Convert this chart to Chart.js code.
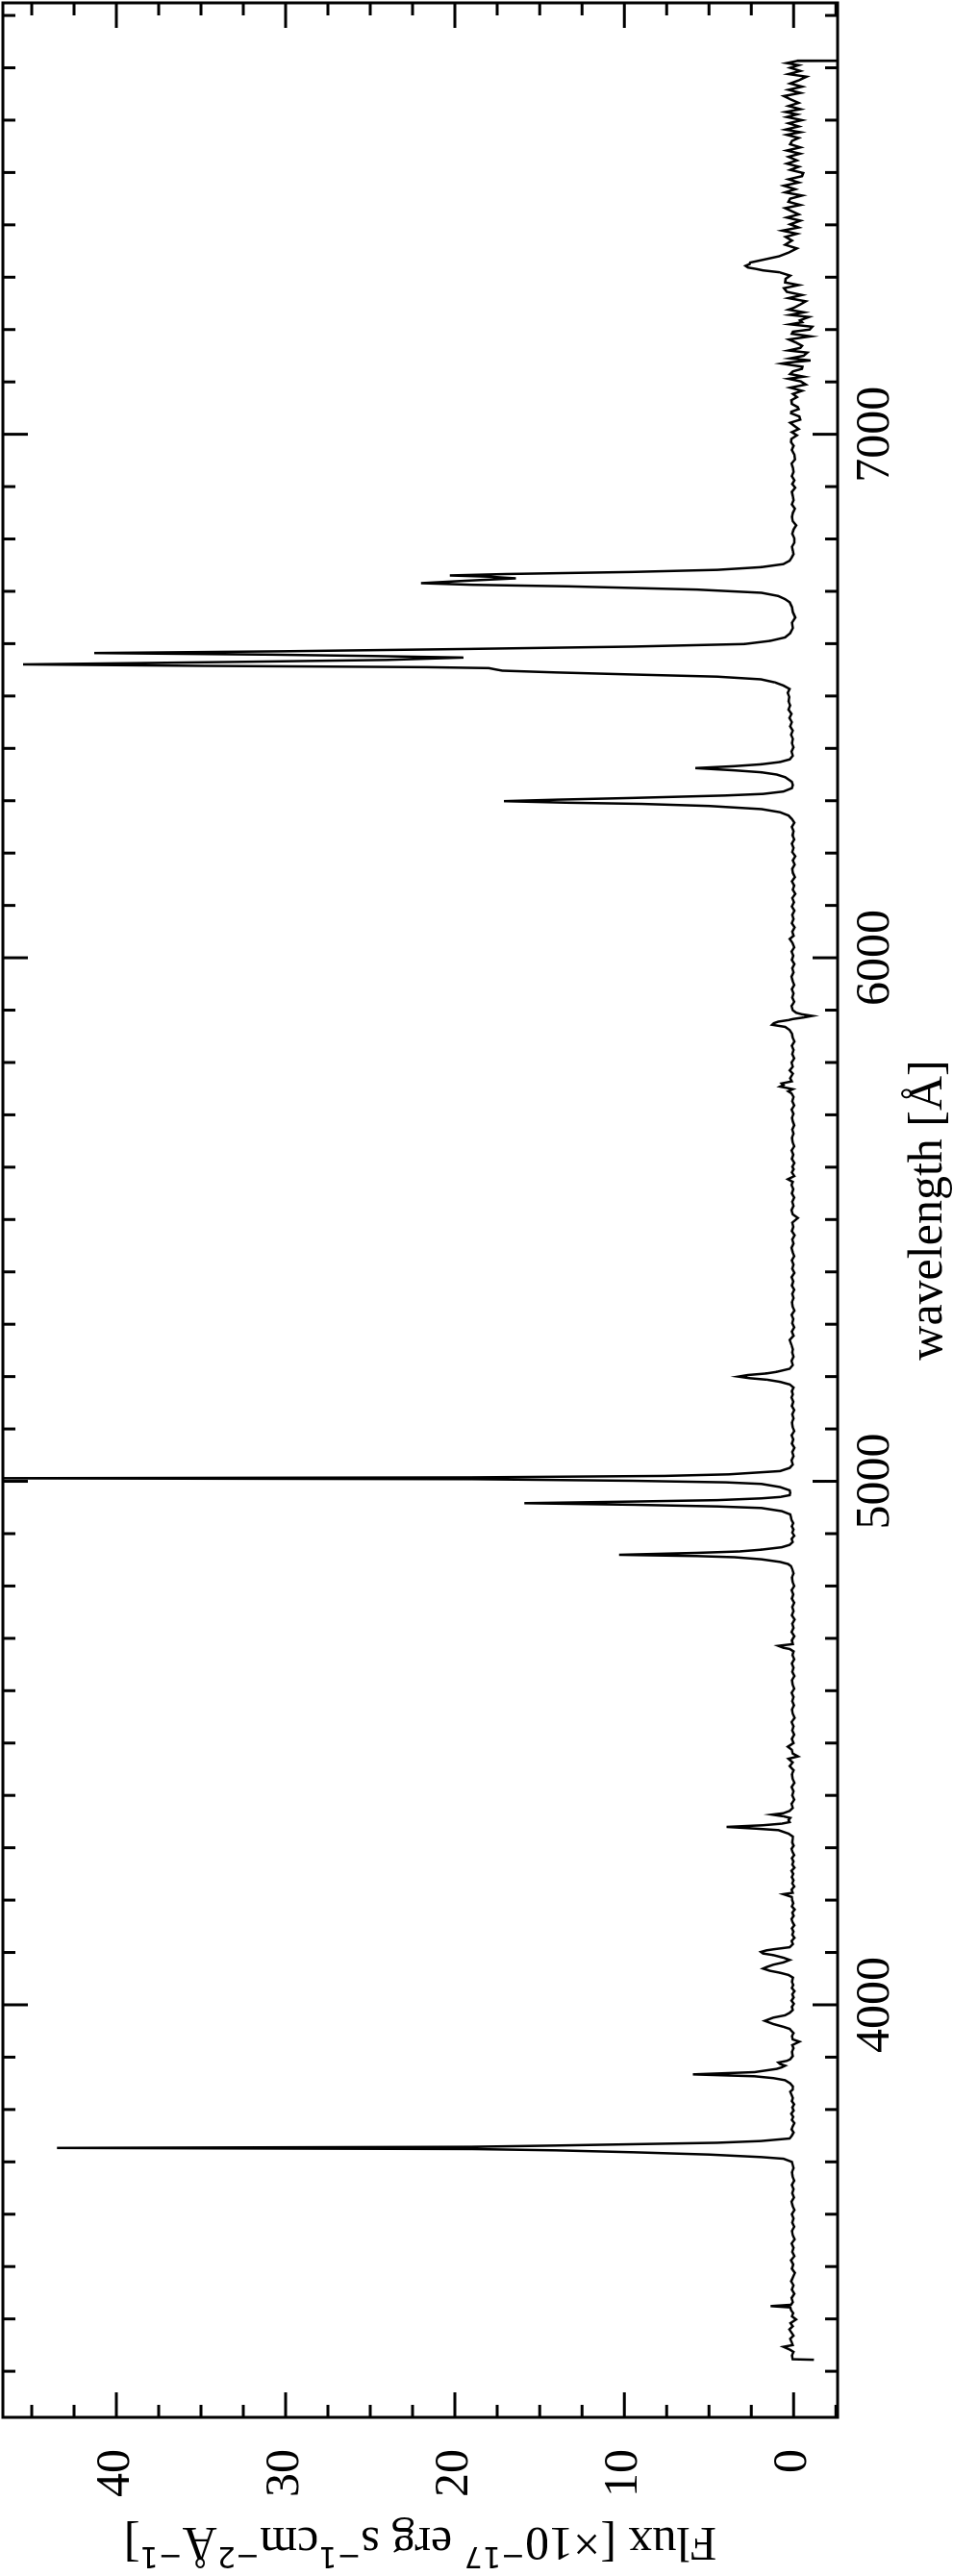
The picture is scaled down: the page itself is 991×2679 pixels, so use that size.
<!DOCTYPE html>
<html>
<head>
<meta charset="utf-8">
<script src="https://cdn.jsdelivr.net/npm/chart.js@4.4.1/dist/chart.umd.min.js"></script>
<style>
  html, body { margin: 0; padding: 0; background: #fff; overflow: hidden; }
  #wrap {
    position: absolute; left: 0; top: 0;
    width: 2679px; height: 991px;
    transform-origin: 0 0;
    transform: translateY(2679px) rotate(-90deg);
  }
</style>
</head>
<body>
<div id="wrap"><canvas id="chart" width="2679" height="991"></canvas></div>
<script>
// spectrum, split by region (wavelength in Å, flux in 1e-17 units)
const wlBlue = [
  3322, 3323, 3330, 3337, 3341, 3346.7, 3350, 3356, 3362, 3368,
  3374, 3380, 3386, 3392, 3399, 3405, 3411, 3417, 3422, 3424.5,
  3427, 3432, 3440, 3448, 3456, 3464, 3472, 3480, 3488, 3496,
  3504, 3512, 3520, 3528, 3536, 3544, 3552, 3560, 3568, 3576,
  3584, 3592, 3600, 3608, 3616, 3624, 3632, 3640, 3648, 3656,
  3664, 3672, 3680, 3688, 3694, 3700, 3706, 3709.2, 3714, 3718.4,
  3722, 3724.5, 3726.6, 3728.8, 3731.2, 3733.7, 3736.5, 3739.8, 3744.7, 3750
];
const fluxBlue = [
  -1.2, 0.05, 0.1, 0.0, 0.2, 0.6, 0.05, 0.12, 0.2, 0.0,
  0.13, 0.25, 0.05, 0.18, -0.15, 0.1, 0.02, 0.15, 0.2, 1.36,
  0.15, 0.05, 0.12, -0.05, 0.1, 0.0, 0.14, 0.03, -0.08, 0.1,
  0.02, 0.15, -0.05, 0.08, 0.0, 0.12, -0.06, 0.05, 0.1, -0.04,
  0.08, 0.0, 0.1, -0.05, 0.06, 0.12, -0.02, 0.08, 0.0, 0.1,
  -0.04, 0.06, 0.1, 0.0, 0.05, 0.1, 0.6, 1.93, 5.0, 9.5,
  14, 19, 43.5, 19, 14, 9.5, 4.5, 1.93, 0.23, 0.1
];

const wlNeon = [
  3756, 3762, 3768, 3774, 3780, 3786, 3792, 3798, 3804, 3810,
  3816, 3822, 3828, 3834, 3838, 3844, 3850, 3856, 3860, 3863.5,
  3867.1, 3871.4, 3877.6, 3880.5, 3883.7, 3887, 3889.8, 3893, 3896, 3902,
  3910, 3917, 3923, 3929.6, 3934, 3940, 3946, 3951, 3954, 3958,
  3963.3, 3969.4, 3975.5, 3980, 3984.7, 3990, 3996, 4002, 4008, 4014,
  4020, 4026, 4032, 4038, 4044, 4052, 4057, 4061.2, 4065, 4069.2,
  4072, 4076.6, 4081, 4085.7, 4090, 4095, 4098, 4101, 4104, 4106,
  4110, 4116, 4122, 4128, 4134, 4140, 4146, 4152, 4158, 4164,
  4170, 4176, 4182, 4188, 4194, 4200, 4206, 4211.3, 4214, 4220,
  4226, 4232, 4238, 4244, 4250
];
const fluxNeon = [
  0.0, 0.12, 0.05, -0.05, 0.1, 0.02, 0.14, 0.0, 0.08, -0.03,
  0.1, 0.04, 0.12, 0.2, 0.05, 0.04, 0.2, 0.5, 1.2, 2.3,
  5.95, 2.3, 1.0, 0.7, 0.5, 0.8, 0.9, 0.4, 0.2, 0.05,
  0.1, 0.0, 0.08, -0.34, 0.05, 0.1, 0.0, 0.15, 0.23, 0.6,
  1.2, 1.7, 1.2, 0.5, 0.23, 0.05, 0.1, -0.02, 0.12, 0.0,
  0.08, -0.05, 0.1, 0.02, 0.1, 0.04, 0.3, 0.8, 1.4, 1.8,
  1.6, 1.2, 0.6, 0.23, 0.6, 1.2, 1.8, 1.93, 1.6, 1.2,
  0.23, 0.04, 0.12, -0.05, 0.08, 0.0, 0.1, -0.04, 0.06, 0.12,
  0.0, 0.08, -0.06, 0.1, 0.02, 0.08, 0.1, 0.6, 0.05, 0.12,
  -0.04, 0.08, 0.0, 0.1, 0.02
];

const wlHbeta = [
  4256, 4262, 4268, 4274, 4280, 4286, 4292, 4298, 4304, 4310,
  4316, 4321.4, 4327, 4333.7, 4336.5, 4339.8, 4343, 4346, 4349, 4353,
  4357, 4360, 4363.3, 4366, 4370.4, 4376, 4384, 4392, 4400, 4408,
  4416, 4424, 4432, 4440, 4448, 4456, 4463, 4470, 4474.5, 4480,
  4487, 4493, 4500, 4508, 4516, 4524, 4532, 4540, 4548, 4556,
  4564, 4572, 4580, 4588, 4596, 4604, 4612, 4620, 4628, 4636,
  4644, 4652, 4660, 4668, 4675, 4679.6, 4682, 4685.7, 4689, 4696,
  4704, 4712, 4720, 4728, 4736, 4744, 4752, 4760, 4768, 4776,
  4784, 4792, 4800, 4808, 4816, 4824, 4832, 4838, 4841.9, 4846,
  4851, 4855, 4857.2, 4859.6, 4863.3, 4866, 4869.4, 4874, 4878.6, 4884,
  4890, 4896, 4902, 4908, 4914, 4920, 4926, 4931, 4936.8, 4943,
  4949, 4952, 4955.2, 4958.2, 4961.3, 4964, 4967.4, 4970, 4973.5, 4978,
  4982.7, 4989, 4995, 4998, 5001, 5004.1, 5005.8, 5007.5, 5010.3, 5013.3,
  5019.5, 5025.6, 5032
];
const fluxHbeta = [
  0.12, -0.05, 0.08, 0.0, 0.1, -0.03, 0.06, 0.12, 0.0, 0.08,
  0.05, 0.04, 0.3, 0.9, 2.2, 3.96, 1.8, 0.7, 0.23, 0.3,
  0.2, 0.6, 1.27, 0.6, 0.23, 0.05, 0.12, -0.04, 0.08, 0.0,
  0.12, -0.05, 0.06, 0.1, 0.0, 0.23, 0.05, 0.3, -0.26, 0.05,
  0.1, 0.34, 0.0, 0.1, -0.04, 0.08, 0.0, 0.12, -0.06, 0.05,
  0.1, -0.02, 0.08, 0.0, 0.12, -0.04, 0.06, 0.1, -0.05, 0.08,
  0.0, 0.1, -0.04, 0.06, 0.0, 0.23, 0.6, 0.9, 0.04, 0.1,
  -0.04, 0.12, 0.0, 0.08, -0.06, 0.1, 0.0, 0.08, -0.04, 0.1,
  0.02, 0.12, -0.04, 0.06, 0.1, 0.0, 0.08, 0.15, 0.32, 0.8,
  1.9, 3.5, 5.7, 10.3, 5.7, 3.2, 1.9, 0.7, 0.23, 0.05,
  0.12, -0.04, 0.08, 0.0, 0.1, 0.02, 0.12, 0.15, 0.2, 0.7,
  1.9, 4.5, 9.5, 15.9, 9.5, 4.5, 1.9, 0.8, 0.23, 0.2,
  0.23, 0.8, 1.9, 4.0, 9.5, 19, 48, 19, 7.6, 3.8,
  0.8, 0.23, 0.05
];

const wlGreen = [
  5040, 5048, 5056, 5064, 5072, 5080, 5088, 5096, 5104, 5112,
  5120, 5128, 5136, 5144, 5152, 5160, 5166, 5172, 5179, 5185,
  5190, 5194, 5197, 5200, 5203, 5206, 5209, 5215, 5222, 5230,
  5238, 5246, 5252, 5260, 5270, 5278, 5286, 5294, 5302, 5310,
  5318, 5326, 5334, 5342, 5350, 5358, 5366, 5374, 5382, 5390,
  5398, 5406, 5414, 5422, 5430, 5438, 5446, 5454, 5462, 5470,
  5478, 5486, 5494, 5503, 5510, 5518, 5526, 5534, 5542, 5550,
  5558, 5566, 5572, 5577, 5583, 5590, 5596, 5601, 5608, 5616,
  5624, 5632, 5640, 5648, 5656, 5664, 5672, 5680, 5687, 5694,
  5702, 5710, 5718, 5726, 5734, 5741, 5745, 5749, 5754, 5757,
  5760, 5764, 5770, 5778.7, 5785, 5792, 5800, 5808, 5816, 5824,
  5832, 5840, 5848, 5855, 5862, 5868, 5872, 5875, 5878, 5881,
  5883, 5886, 5889, 5892, 5895, 5900, 5908, 5916, 5924, 5932,
  5940, 5948, 5956, 5964, 5972, 5980, 5988, 5996, 6004, 6012,
  6020, 6028, 6036, 6042, 6050, 6058, 6066, 6074, 6082, 6090,
  6098, 6106, 6114, 6122, 6130, 6138, 6146, 6154, 6162, 6170,
  6178, 6186, 6194, 6202, 6210, 6218, 6226, 6234, 6242, 6250,
  6258, 6265
];
const fluxGreen = [
  0.12, 0.0, 0.08, -0.05, 0.1, 0.02, 0.12, -0.04, 0.06, 0.1,
  0.0, 0.08, -0.04, 0.1, 0.02, 0.12, 0.04, 0.1, 0.0, 0.23,
  0.8, 1.55, 2.6, 3.26, 2.7, 1.6, 1.0, 0.23, 0.05, 0.12,
  0.0, 0.08, 0.04, 0.12, 0.23, 0.0, 0.1, -0.04, 0.08, 0.02,
  0.12, -0.05, 0.06, 0.1, 0.0, 0.08, -0.04, 0.1, 0.02, 0.12,
  -0.05, 0.08, 0.0, 0.1, -0.04, 0.06, 0.12, 0.0, 0.08, -0.06,
  0.1, 0.02, 0.08, -0.26, 0.05, 0.12, 0.0, 0.08, -0.04, 0.1,
  0.02, 0.12, 0.05, 0.34, -0.04, 0.1, 0.0, 0.08, -0.05, 0.1,
  0.02, 0.12, -0.04, 0.06, 0.1, 0.0, 0.08, -0.04, 0.04, 0.1,
  0.0, 0.12, -0.04, 0.08, 0.0, 0.12, 0.32, 0.04, 0.8, 0.6,
  0.7, 0.1, 0.2, 0.04, 0.23, 0.05, 0.12, -0.04, 0.08, 0.0,
  0.1, -0.05, 0.06, 0.1, 0.23, 0.5, 1.27, 1.17, 0.9, 0.3,
  0.04, -0.6, -1.1, -0.5, -0.15, 0.05, 0.12, -0.04, 0.08, 0.0,
  0.1, -0.04, 0.06, 0.12, 0.0, 0.08, -0.05, 0.1, 0.02, 0.12,
  -0.04, 0.06, 0.23, 0.0, 0.08, -0.06, 0.1, 0.0, 0.08, -0.05,
  0.1, -0.02, 0.08, -0.1, 0.05, -0.04, 0.1, -0.08, 0.04, 0.08,
  -0.06, 0.05, -0.1, 0.08, 0.0, 0.1, -0.04, 0.06, 0.0, 0.1,
  -0.05, 0.1
];

const wlHalpha = [
  6271.7, 6278, 6284, 6290, 6294, 6296.2, 6299.2, 6302, 6305.3, 6310,
  6313, 6317.6, 6324, 6330, 6336, 6339, 6345, 6350, 6354.3, 6358,
  6362.3, 6366, 6369.6, 6374, 6379, 6386, 6394, 6402, 6410, 6418,
  6426, 6434, 6442, 6450, 6458, 6466, 6474, 6482, 6490, 6498,
  6506, 6513.5, 6520, 6526, 6531.9, 6537, 6541.1, 6545, 6548.4, 6550.8,
  6553.3, 6555.1, 6557.6, 6560.4, 6563, 6565.6, 6569, 6573.5, 6576.5, 6579,
  6582.1, 6585.5, 6590, 6594.4, 6599.3, 6605.4, 6612, 6620, 6630, 6640,
  6650, 6660, 6670, 6679, 6685, 6691, 6697.2, 6703.3, 6709.5, 6712.5,
  6715.6, 6720, 6724.8, 6728, 6730.3, 6733, 6737, 6741, 6746.2, 6752,
  6758.5, 6765
];
const fluxHalpha = [
  0.3, 0.8, 1.9, 5.0, 9.0, 13.3, 17.1, 14.0, 9.5, 4.0,
  1.8, 0.6, 0.1, 0.04, 0.1, 0.23, 0.5, 1.0, 1.9, 3.5,
  5.8, 3.5, 1.9, 0.8, 0.23, 0.05, 0.12, 0.0, 0.1, 0.04,
  0.15, 0.05, 0.2, 0.1, 0.25, 0.12, 0.3, 0.2, 0.3, 0.25,
  0.35, 0.23, 0.6, 1.1, 1.93, 4.5, 9.5, 14.0, 17.2, 17.6,
  18.0, 21.7, 34.8, 45.5, 38.5, 31.9, 24.0, 19.5, 25.0, 30.8,
  41.3, 30.0, 19.0, 9.5, 2.9, 1.37, 0.5, 0.2, 0.04, 0.1,
  -0.1, 0.04, 0.1, 0.23, 0.5, 0.9, 1.9, 5.7, 13.3, 19.0,
  22.0, 19.5, 16.4, 18.0, 20.3, 17.0, 9.5, 4.5, 1.9, 0.6,
  0.23, 0.1
];

const wlRed = [
  6771, 6777, 6785, 6793, 6801, 6810, 6818, 6826, 6834, 6842,
  6850, 6858, 6866, 6874, 6881, 6890, 6898, 6905, 6912, 6920,
  6928, 6936, 6944, 6952, 6961, 6970, 6978, 6985, 6991, 6998,
  7004, 7010, 7016, 7022, 7028, 7034, 7040, 7043, 7048, 7052,
  7058, 7065, 7071, 7077, 7083, 7089, 7095, 7101, 7106, 7110,
  7115, 7120, 7125, 7129, 7132, 7135, 7137, 7141, 7145, 7150,
  7156, 7160, 7165, 7169, 7175, 7181, 7187, 7192, 7196, 7200,
  7205.4, 7210, 7214, 7217.6, 7224, 7228, 7233, 7238, 7242, 7248,
  7254, 7260, 7266, 7272, 7279, 7285, 7290, 7297, 7303, 7309.5,
  7313, 7315.6, 7318.5, 7321.7, 7325, 7328, 7334, 7340, 7347, 7355,
  7362, 7370, 7377, 7383, 7389, 7395, 7401, 7408, 7414, 7420,
  7425.8, 7432, 7438, 7444, 7450, 7456, 7462, 7468, 7474.8, 7481,
  7487, 7493, 7499, 7505, 7511, 7517, 7523, 7530, 7536, 7542,
  7548, 7554, 7560.5, 7566, 7572, 7577, 7582, 7588, 7594, 7600,
  7606, 7611, 7615.6, 7621, 7627, 7633, 7640, 7646, 7652, 7658,
  7664, 7670, 7676, 7683, 7688, 7694, 7700, 7705, 7709, 7713,
  7713.6
];
const fluxRed = [
  0.0, 0.04, 0.1, -0.05, -0.05, 0.08, 0.0, -0.15, 0.05, 0.1,
  0.04, -0.08, 0.1, 0.0, 0.04, 0.1, -0.1, 0.08, -0.05, 0.1,
  0.0, 0.04, 0.12, -0.08, -0.05, 0.1, 0.0, 0.15, 0.13, -0.2,
  0.1, -0.3, -0.05, 0.2, -0.4, -0.34, 0.15, 0.13, -0.3, -0.24,
  0.1, 0.13, -0.2, 0.04, -0.5, 0.2, -0.72, -0.43, 0.3, -0.6,
  0.2, 0.04, -0.5, -0.53, 0.1, 0.7, 0.3, -1.0, 0.2, -0.6,
  -0.81, 0.3, -0.4, -0.5, -0.15, 0.28, -1.0, 0.1, 0.04, -0.95,
  -1.1, 0.2, -0.5, -0.38, -0.91, 0.2, -0.6, 0.3, -0.05, -0.4,
  -0.72, 0.3, -0.5, 0.4, 0.57, -0.3, 0.5, 0.47, 0.2, 0.85,
  1.8, 2.18, 2.7, 2.84, 2.6, 2.56, 1.7, 0.85, 0.3, -0.19,
  0.5, 0.1, 0.47, -0.2, 0.66, -0.3, 0.2, -0.4, 0.4, -0.3,
  0.09, 0.5, -0.4, 0.3, 0.2, -0.5, 0.5, -0.1, 0.57, -0.3,
  0.3, -0.5, -0.57, 0.2, -0.3, 0.4, -0.2, 0.3, -0.38, 0.4,
  -0.4, 0.2, 0.09, -0.3, 0.4, -0.4, 0.47, -0.3, 0.3, -0.5,
  0.4, -0.2, 0.47, -0.4, 0.3, -0.3, 0.2, 0.57, -0.4, 0.3,
  -0.5, 0.2, -0.3, -0.76, 0.3, -0.4, 0.2, -0.3, 0.4, -0.2,
  -5
];

// axis ranges and ticks
const wlMin = 3212, wlMax = 7824;
const fluxMin = -2.6, fluxMax = 46.7;
const wlTicks = [4000, 5000, 6000, 7000];
const fluxTicks = [0, 10, 20, 30, 40];
const wlMajor = 1000, wlMinor = 100;
const fluxMajor = 10, fluxMinor = 2.5;

const xTitle = 'wavelength [Å]';
const yTitleParts = [
  { text: 'Flux [×10', sup: false },
  { text: '−17', sup: true },
  { text: ' erg s', sup: false },
  { text: '−1', sup: true },
  { text: 'cm', sup: false },
  { text: '−2', sup: true },
  { text: 'Å', sup: false },
  { text: '−1', sup: true },
  { text: ']', sup: false },
];

const serif = '"Liberation Serif", "Times New Roman", serif';
const mainFont = '50px ' + serif;
const supFont = '30px "DejaVu Sans", sans-serif';

const wavelength = [].concat(wlBlue, wlNeon, wlHbeta, wlGreen, wlHalpha, wlRed);
const flux = [].concat(fluxBlue, fluxNeon, fluxHbeta, fluxGreen, fluxHalpha, fluxRed);

const isMultiple = (v, step) => Math.abs(v / step - Math.round(v / step)) < 1e-6;

// frame with inward ticks on all four sides, plus the axis titles
const framePlugin = {
  id: 'frame',
  afterDraw(chart) {
    const { ctx, chartArea: a, scales: { x, y } } = chart;
    ctx.save();
    ctx.strokeStyle = '#000';
    ctx.lineWidth = 3;
    ctx.beginPath();
    for (let v = Math.ceil(x.min / wlMinor) * wlMinor; v <= x.max; v += wlMinor) {
      const px = x.getPixelForValue(v);
      const len = isMultiple(v, wlMajor) ? 26 : 13;
      ctx.moveTo(px, a.bottom); ctx.lineTo(px, a.bottom - len);
      ctx.moveTo(px, a.top); ctx.lineTo(px, a.top + len);
    }
    for (let v = Math.ceil(y.min / fluxMinor) * fluxMinor; v <= y.max; v += fluxMinor) {
      const py = y.getPixelForValue(v);
      const len = isMultiple(v, fluxMajor) ? 26 : 13;
      ctx.moveTo(a.left, py); ctx.lineTo(a.left + len, py);
      ctx.moveTo(a.right, py); ctx.lineTo(a.right - len, py);
    }
    ctx.stroke();
    ctx.strokeRect(a.left, a.top, a.right - a.left, a.bottom - a.top);

    ctx.fillStyle = '#000';
    ctx.font = mainFont;
    ctx.textAlign = 'center';
    ctx.textBaseline = 'alphabetic';
    ctx.fillText(xTitle, (a.left + a.right) / 2, 979);

    ctx.translate(50, (a.top + a.bottom) / 2);
    ctx.rotate(-Math.PI / 2);
    ctx.textAlign = 'left';
    let total = 0;
    yTitleParts.forEach(p => {
      ctx.font = p.sup ? supFont : mainFont;
      total += ctx.measureText(p.text).width;
    });
    let pos = -total / 2;
    yTitleParts.forEach(p => {
      ctx.font = p.sup ? supFont : mainFont;
      ctx.fillText(p.text, pos, p.sup ? -20 : 0);
      pos += ctx.measureText(p.text).width;
    });
    ctx.restore();
  }
};

const tickFont = { family: serif, size: 50 };

new Chart(document.getElementById('chart'), {
  type: 'scatter',
  data: {
    datasets: [{
      data: wavelength.map((w, i) => ({ x: w, y: flux[i] })),
      showLine: true,
      borderColor: '#000',
      borderWidth: 2.5,
      pointRadius: 0,
      tension: 0,
      fill: false
    }]
  },
  options: {
    responsive: false,
    animation: false,
    devicePixelRatio: 1,
    layout: { padding: { top: 3, right: 3, left: 0, bottom: 0 } },
    plugins: { legend: { display: false }, tooltip: { enabled: false } },
    scales: {
      x: {
        type: 'linear',
        min: wlMin,
        max: wlMax,
        grid: { display: false },
        border: { display: false },
        afterBuildTicks: s => { s.ticks = wlTicks.map(v => ({ value: v })); },
        ticks: {
          maxRotation: 0,
          autoSkip: false,
          padding: 2,
          color: '#000',
          font: tickFont,
          callback: v => String(v)
        },
        afterFit: s => { s.height = 120; s.paddingLeft = 0; s.paddingRight = 0; }
      },
      y: {
        type: 'linear',
        min: fluxMin,
        max: fluxMax,
        grid: { display: false },
        border: { display: false },
        afterBuildTicks: s => { s.ticks = fluxTicks.map(v => ({ value: v })); },
        ticks: {
          padding: 25,
          color: '#000',
          font: tickFont,
          callback: v => String(v)
        },
        afterFit: s => { s.width = 165; s.paddingTop = 0; s.paddingBottom = 0; }
      }
    }
  },
  plugins: [framePlugin]
});
</script>
</body>
</html>
